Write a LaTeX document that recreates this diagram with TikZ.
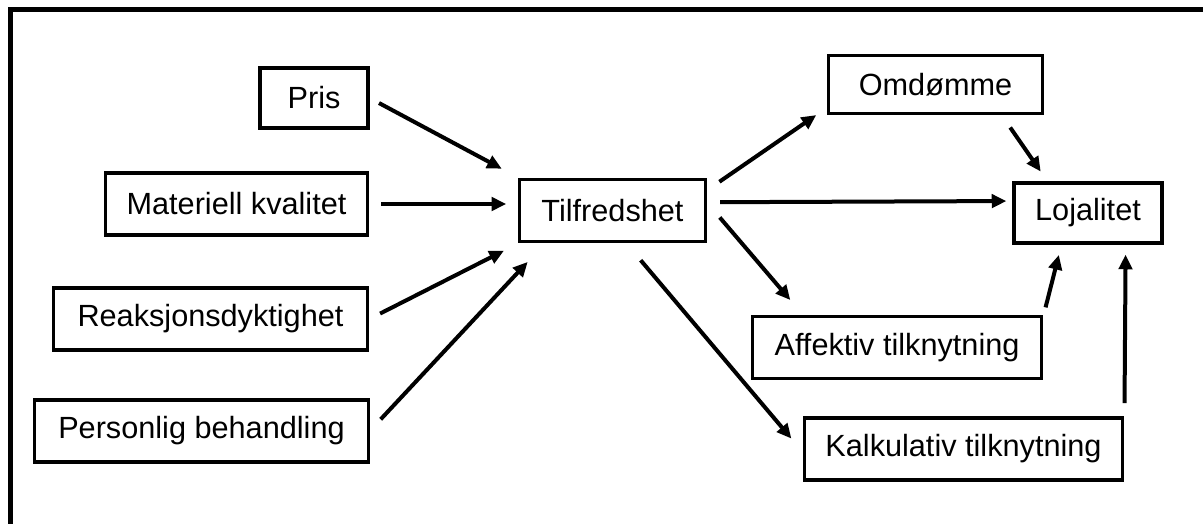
\documentclass[tikz,border=0pt]{standalone}
\usepackage{fontspec}
\setmainfont{Liberation Sans}
\usetikzlibrary{arrows.meta}
\tikzset{
  box/.style={draw, line width=2.4pt, inner sep=0pt, font=\fontsize{23}{27}\selectfont},
  arr/.style={line width=3pt, -{Triangle[length=11pt,width=10pt]}},
}
\begin{document}
\begin{tikzpicture}[x=0.75pt,y=-0.75pt]
\useasboundingbox (0,0) rectangle (1203,524);
\draw[line width=3.75pt] (10,530) -- (10,10) -- (1210,10);
\node[box, minimum width=81pt, minimum height=45pt] (pris) at (314,98) {Pris};
\node[box, minimum width=197pt, minimum height=46.5pt] (mat) at (236.5,204) {Materiell kvalitet};
\node[box, minimum width=236pt, minimum height=46.5pt] (reak) at (210.5,319) {Reaksjonsdyktighet};
\node[box, minimum width=250pt, minimum height=46.5pt] (pers) at (201.5,431) {Personlig behandling};
\node[box, minimum width=139pt, minimum height=47pt] (tilf) at (612.5,210.5) {Tilfredshet};
\node[box, minimum width=160pt, minimum height=44pt] (omd) at (935.5,84.5) {Omdømme};
\node[box, minimum width=111pt, minimum height=45pt] (loj) at (1088,213) {Lojalitet};
\node[box, minimum width=217pt, minimum height=46pt] (aff) at (897,347.5) {Affektiv tilknytning};
\node[box, minimum width=239pt, minimum height=46.5pt] (kalk) at (963.5,449) {Kalkulativ tilknytning};
\draw[arr, shorten <=8pt, shorten >=14pt] (pris.east) -- (tilf.north west);
\draw[arr, shorten <=9pt, shorten >=9pt] (mat.east) -- (mat.east -| tilf.west);
\draw[arr, shorten <=9pt, shorten >=12pt] (reak.east) -- (tilf.south west);
\draw[arr, shorten <=12pt, shorten >=19pt] (pers.east) -- (tilf.206);
\draw[arr, shorten <=11.5pt, shorten >=10pt] (tilf.12.7) -- (omd.192.3);
\draw[arr, shorten <=10pt, shorten >=4.5pt] (tilf.5.25) -- (loj.171.5);
\draw[arr, shorten <=15pt, shorten >=15pt] (tilf.5.25) -- (aff.161.8);
\draw[arr, shorten <=16.5pt, shorten >=13pt] (tilf.-67.3) -- (kalk.181.8);
\draw[arr, shorten <=11pt, shorten >=9pt] (omd.-25.3) -- (loj.142.1);
\draw[arr, shorten <=7pt, shorten >=8pt] (aff.12.3) -- (loj.-130.4);
\draw[arr, shorten <=11pt, shorten >=7.5pt] (kalk.11.6) -- (loj.-40.2);
\end{tikzpicture}
\end{document}
